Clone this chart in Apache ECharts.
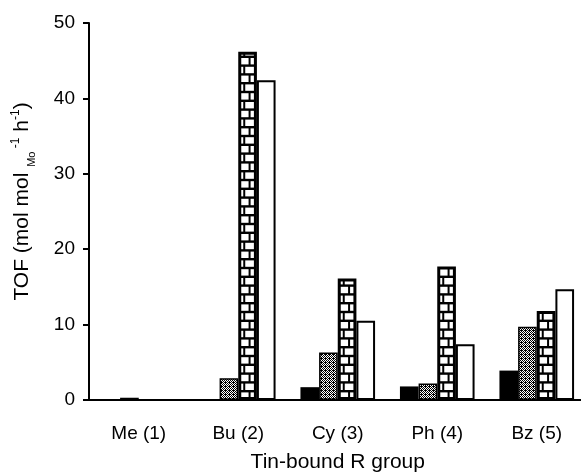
<!DOCTYPE html>
<html>
<head>
<meta charset="utf-8">
<script src="https://cdn.jsdelivr.net/npm/echarts@6/dist/echarts.min.js"></script>
<style>
html,body{margin:0;padding:0;background:#fff;}
#main{width:581px;height:473px;}
</style>
</head>
<body>
<div id="main"></div>
<script>
// data
var groups = ['Me (1)', 'Bu (2)', 'Cy (3)', 'Ph (4)', 'Bz (5)'];
var solidVals = [0, 0, 1.7, 1.8, 3.9];
var dotVals = [0.3, 2.9, 6.3, 2.2, 9.7];
var brickVals = [0, 46.2, 16.1, 17.7, 11.8];
var openVals = [0, 42.4, 10.5, 7.4, 14.7];
var yTicks = [0, 10, 20, 30, 40, 50];

// zero bars are not drawn in the figure
function nz(arr) {
    return arr.map(function (v) { return v ? v : '-'; });
}

// small dotted tile for the second series
function dotTile() {
    var c = document.createElement('canvas');
    c.width = 4; c.height = 4;
    var g = c.getContext('2d');
    g.fillStyle = '#fff';
    g.fillRect(0, 0, 4, 4);
    g.fillStyle = '#000';
    for (var x = 0; x < 4; x++) {
        for (var y = 0; y < 4; y++) {
            if ((x + y) % 2 == 0 || (x == 1 && y == 2)) g.fillRect(x, y, 1, 1);
        }
    }
    return c;
}

// mortar lines drawn over the brick bars (3rd slot of 4)
var ROW = 8.8;
function brickLines(params, api) {
    var v = api.value(1);
    if (!v) return;
    var base = api.coord([api.value(0), 0]);
    var top = api.coord([api.value(0), v]);
    var w = api.size([1, 0])[0] * 0.75 / 4;
    var x0 = base[0] + 1, x1 = base[0] + w - 1;
    var kids = [];
    var row = 0;
    for (var yb = base[1]; yb > top[1] + 2; yb -= ROW) {
        var yt = Math.max(yb - ROW, top[1] + 1);
        var vx = x0 + (row % 2 ? 0.3 : 0.62) * (x1 - x0);
        kids.push({type: 'rect', shape: {x: vx - 1, y: yt, width: 2, height: yb - yt}, style: {fill: '#000'}});
        if (yb - ROW > top[1] + 3) {
            kids.push({type: 'rect', shape: {x: x0, y: yb - ROW - 1.2, width: x1 - x0, height: 2.4}, style: {fill: '#000'}});
        }
        row++;
    }
    return {type: 'group', children: kids};
}

var myChart = echarts.init(document.getElementById('main'));
var font = 'Liberation Sans, Arial, sans-serif';
var option = {
    animation: false,
    backgroundColor: '#fff',
    grid: {left: 89, right: -5.5, top: 23, bottom: 73, outerBoundsMode: 'none', containLabel: false},
    xAxis: {
        type: 'category',
        data: groups,
        name: 'Tin-bound R group',
        nameLocation: 'middle',
        nameGap: 52,
        nameTextStyle: {color: '#000', fontSize: 21, fontFamily: font},
        axisLine: {lineStyle: {color: '#000', width: 2}},
        axisTick: {length: 6, lineStyle: {color: '#000', width: 2}},
        axisLabel: {color: '#000', fontSize: 19, fontFamily: font, margin: 24}
    },
    yAxis: {
        type: 'value',
        min: yTicks[0],
        max: yTicks[yTicks.length - 1],
        interval: yTicks[1] - yTicks[0],
        name: '{m|TOF (mol mol }{sub|Mo}{sup| -1}{m| h}{sup|-1}{m|)}',
        nameLocation: 'middle',
        nameGap: 52,
        nameTextStyle: {
            color: '#000', fontFamily: font, fontSize: 21,
            padding: [0, 0, 0, 20],
            rich: {
                m: {fontSize: 21, fontFamily: font, color: '#000', lineHeight: 30, verticalAlign: 'middle'},
                sub: {fontSize: 11, fontFamily: font, color: '#000', lineHeight: 11, verticalAlign: 'bottom'},
                sup: {fontSize: 12, fontFamily: font, color: '#000', lineHeight: 12, verticalAlign: 'top', padding: [3, 0, 0, 0]}
            }
        },
        splitLine: {show: false},
        axisLine: {show: true, lineStyle: {color: '#000', width: 2}},
        axisTick: {show: true, length: 6, lineStyle: {color: '#000', width: 2}},
        axisLabel: {color: '#000', fontSize: 19, fontFamily: font, margin: 14}
    },
    series: [
        {type: 'bar', data: nz(solidVals), barGap: '0%', barCategoryGap: '25%',
            itemStyle: {color: '#000'}},
        {type: 'bar', data: nz(dotVals),
            itemStyle: {color: {image: dotTile(), repeat: 'repeat'}, borderColor: '#000', borderWidth: 1.5}},
        {type: 'bar', data: nz(brickVals),
            itemStyle: {color: '#fff', borderColor: '#000', borderWidth: 3}},
        {type: 'bar', data: nz(openVals),
            itemStyle: {color: '#fff', borderColor: '#000', borderWidth: 2}},
        {type: 'custom', renderItem: brickLines, z: 5,
            data: brickVals.map(function (v, i) { return [i, v]; })}
    ]
};
myChart.setOption(option);
</script>
</body>
</html>
